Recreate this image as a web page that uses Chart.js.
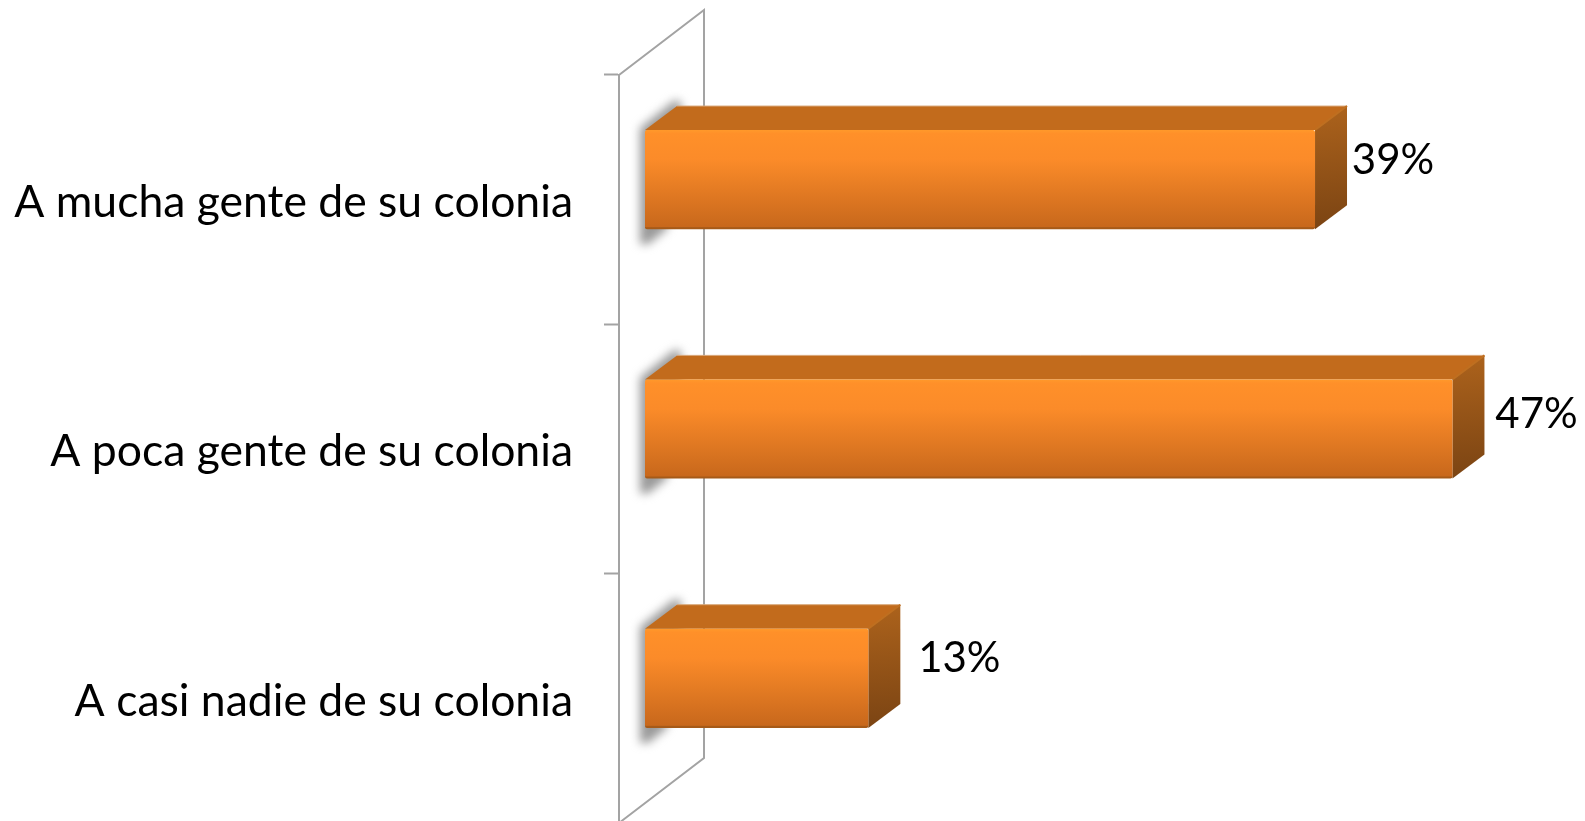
<!DOCTYPE html>
<html>
<head>
<meta charset="utf-8">
<title>Chart</title>
<script src="https://cdn.jsdelivr.net/npm/chart.js@4"></script>
<style>
html, body { margin: 0; padding: 0; background: #fff; overflow: hidden; }
#box { width: 1585px; height: 821px; overflow: hidden; }
</style>
</head>
<body>
<div id="box"><canvas id="barChart"></canvas></div>
<script>
const categories = ['A mucha gente de su colonia', 'A poca gente de su colonia', 'A casi nadie de su colonia'];
const percentValues = [39, 47, 13];

// 3D look: fake depth offsets
const wallDepth = { x: 85, y: -65 };
const barShift = { x: 26, y: -20 };
const barDepth = { x: 32, y: -24 };
const labelShift = [{ x: 78, y: -19 }, { x: 84, y: -15 }, { x: 91, y: -20 }];
const labelFont = '42px Lato';

function poly(ctx, pts) {
    ctx.beginPath();
    pts.forEach(function (p, i) {
        if (i === 0) ctx.moveTo(p[0], p[1]);
        else ctx.lineTo(p[0], p[1]);
    });
    ctx.closePath();
}

const fake3d = {
    id: 'fake3d',
    beforeDraw(chart) {
        // category labels sit a little under the band centre in the original
        chart.scales.y.getLabelItems().forEach(function (item) {
            item.options.translation[1] += 3;
        });
    },
    beforeDatasetsDraw(chart) {
        const ctx = chart.ctx;
        const a = chart.chartArea;
        const meta = chart.getDatasetMeta(0);

        // back part of the wall
        ctx.save();
        ctx.strokeStyle = '#a3a3a3';
        ctx.lineWidth = 2;
        ctx.beginPath();
        ctx.moveTo(a.left, a.top);
        ctx.lineTo(a.left + wallDepth.x, a.top + wallDepth.y);
        ctx.lineTo(a.left + wallDepth.x, a.bottom + wallDepth.y);
        ctx.lineTo(a.left, a.bottom);
        ctx.stroke();
        ctx.restore();

        ctx.save();
        ctx.translate(barShift.x, barShift.y);
        meta.data.forEach(function (bar) {
            const x0 = bar.base;
            const x1 = bar.x;
            const t = bar.y - bar.height / 2;
            const b = bar.y + bar.height / 2;

            // soft shadow on the wall
            ctx.save();
            ctx.filter = 'blur(5px)';
            ctx.fillStyle = '#9a9a9a';
            poly(ctx, [[x0 - 5, t - 2], [x0 + 30, t - 30], [x0 + 36, t - 28], [x0 + 36, t], [x0 + 22, b], [x0 + 3, b + 15], [x0 - 5, b + 15]]);
            ctx.fill();
            ctx.restore();

            // top face
            ctx.fillStyle = '#c26b1c';
            poly(ctx, [[x0, t], [x0 + barDepth.x, t + barDepth.y], [x1 + barDepth.x, t + barDepth.y], [x1, t]]);
            ctx.fill();
            ctx.strokeStyle = '#d9a778';
            ctx.lineWidth = 1;
            ctx.beginPath();
            ctx.moveTo(x0 + barDepth.x, t + barDepth.y);
            ctx.lineTo(x1 + barDepth.x, t + barDepth.y);
            ctx.stroke();

            // side face
            const side = ctx.createLinearGradient(x1, t + barDepth.y, x1 + 10, b);
            side.addColorStop(0, '#ad631c');
            side.addColorStop(1, '#7b4413');
            ctx.fillStyle = side;
            poly(ctx, [[x1, t], [x1 + barDepth.x, t + barDepth.y], [x1 + barDepth.x, b + barDepth.y], [x1, b]]);
            ctx.fill();
            ctx.strokeStyle = '#bf6f20';
            ctx.lineWidth = 2;
            ctx.beginPath();
            ctx.moveTo(x1, t);
            ctx.lineTo(x1 + barDepth.x, t + barDepth.y);
            ctx.stroke();
        });
    },
    afterDatasetsDraw(chart) {
        const ctx = chart.ctx;
        ctx.restore();
        const meta = chart.getDatasetMeta(0);
        ctx.save();
        ctx.fillStyle = '#000';
        ctx.font = labelFont;
        ctx.textAlign = 'center';
        ctx.textBaseline = 'middle';
        meta.data.forEach(function (bar, i) {
            ctx.fillText(percentValues[i] + '%', bar.x + barShift.x + labelShift[i].x, bar.y + barShift.y + labelShift[i].y);
        });
        ctx.restore();
    }
};

const canvas = document.getElementById('barChart');
canvas.width = 1585;
canvas.height = 830;
canvas.style.width = '1585px';
canvas.style.height = '830px';

new Chart(canvas.getContext('2d'), {
    type: 'bar',
    data: {
        labels: categories,
        datasets: [{
            data: percentValues,
            barPercentage: 0.398,
            categoryPercentage: 1,
            borderRadius: 2,
            borderSkipped: false,
            backgroundColor: function (c) {
                const chart = c.chart;
                if (!chart.chartArea) return '#f28a2a';
                const yc = chart.scales.y.getPixelForValue(c.dataIndex);
                const g = chart.ctx.createLinearGradient(0, yc - 50, 0, yc + 50);
                g.addColorStop(0, '#ff9a2b');
                g.addColorStop(0.04, '#ff9029');
                g.addColorStop(0.3, '#fb8b29');
                g.addColorStop(0.97, '#c8681c');
                g.addColorStop(0.98, '#a65a18');
                g.addColorStop(1, '#a65a18');
                return g;
            }
        }]
    },
    options: {
        indexAxis: 'y',
        responsive: false,
        maintainAspectRatio: false,
        animation: false,
        layout: { padding: { top: 75, bottom: 7, right: 107, left: 0 } },
        plugins: {
            legend: { display: false },
            title: { display: false },
            tooltip: { enabled: false }
        },
        scales: {
            x: { display: false, min: 0, max: 50 },
            y: {
                afterFit: function (scale) {
                    scale.width = 619;
                    // tick padding would otherwise eat into the plot height
                    scale.paddingTop = 0;
                    scale.paddingBottom = 0;
                },
                border: { color: '#a3a3a3', width: 2 },
                grid: { offset: true, drawOnChartArea: false, tickLength: 15, tickColor: '#a3a3a3', tickWidth: 2 },
                ticks: { color: '#000', font: { family: 'Lato', size: 44.5 }, padding: 31, crossAlign: 'near' }
            }
        }
    },
    plugins: [fake3d]
});
</script>
</body>
</html>
